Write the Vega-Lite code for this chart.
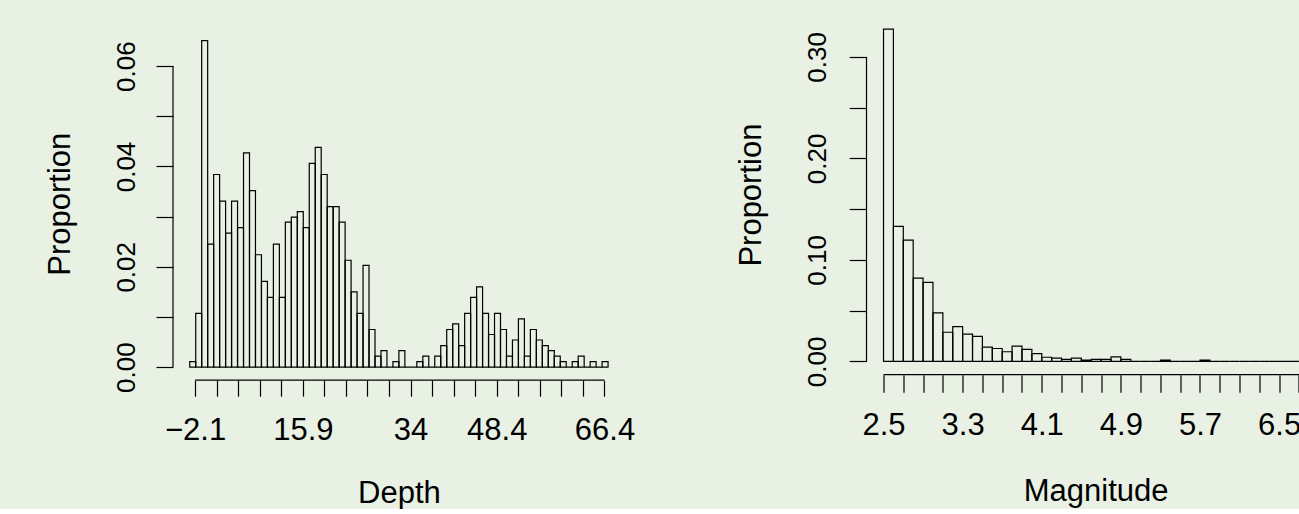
{
  "$schema": "https://vega.github.io/schema/vega-lite/v6.json",
  "background": "#e8f1e4",
  "padding": {"left": 44, "top": 16, "right": 0, "bottom": 0},
  "spacing": 99.5,
  "config": {
    "view": {"stroke": null},
    "font": "Liberation Sans",
    "axis": {
      "grid": false,
      "domain": false,
      "ticks": true,
      "tickCount": 100,
      "tickColor": "#000000",
      "tickWidth": 1.2,
      "labelColor": "#000000",
      "titleColor": "#000000",
      "titleFontWeight": "normal",
      "labelOverlap": false,
      "labelFont": "Liberation Sans",
      "titleFont": "Liberation Sans"
    }
  },
  "datasets": {
    "depth": [
      {"bin_start": -3, "bin_end": -2, "proportion": 0.0011},
      {"bin_start": -2, "bin_end": -1, "proportion": 0.0107},
      {"bin_start": -1, "bin_end": 0, "proportion": 0.0651},
      {"bin_start": 0, "bin_end": 1, "proportion": 0.0245},
      {"bin_start": 1, "bin_end": 2, "proportion": 0.0384},
      {"bin_start": 2, "bin_end": 3, "proportion": 0.0331},
      {"bin_start": 3, "bin_end": 4, "proportion": 0.0267},
      {"bin_start": 4, "bin_end": 5, "proportion": 0.0331},
      {"bin_start": 5, "bin_end": 6, "proportion": 0.0278},
      {"bin_start": 6, "bin_end": 7, "proportion": 0.0427},
      {"bin_start": 7, "bin_end": 8, "proportion": 0.0352},
      {"bin_start": 8, "bin_end": 9, "proportion": 0.0224},
      {"bin_start": 9, "bin_end": 10, "proportion": 0.0171},
      {"bin_start": 10, "bin_end": 11, "proportion": 0.0139},
      {"bin_start": 11, "bin_end": 12, "proportion": 0.0245},
      {"bin_start": 12, "bin_end": 13, "proportion": 0.0139},
      {"bin_start": 13, "bin_end": 14, "proportion": 0.0289},
      {"bin_start": 14, "bin_end": 15, "proportion": 0.0299},
      {"bin_start": 15, "bin_end": 16, "proportion": 0.0310},
      {"bin_start": 16, "bin_end": 17, "proportion": 0.0278},
      {"bin_start": 17, "bin_end": 18, "proportion": 0.0406},
      {"bin_start": 18, "bin_end": 19, "proportion": 0.0438},
      {"bin_start": 19, "bin_end": 20, "proportion": 0.0384},
      {"bin_start": 20, "bin_end": 21, "proportion": 0.0320},
      {"bin_start": 21, "bin_end": 22, "proportion": 0.0320},
      {"bin_start": 22, "bin_end": 23, "proportion": 0.0289},
      {"bin_start": 23, "bin_end": 24, "proportion": 0.0213},
      {"bin_start": 24, "bin_end": 25, "proportion": 0.0150},
      {"bin_start": 25, "bin_end": 26, "proportion": 0.0107},
      {"bin_start": 26, "bin_end": 27, "proportion": 0.0203},
      {"bin_start": 27, "bin_end": 28, "proportion": 0.0075},
      {"bin_start": 28, "bin_end": 29, "proportion": 0.0022},
      {"bin_start": 29, "bin_end": 30, "proportion": 0.0033},
      {"bin_start": 30, "bin_end": 31, "proportion": 0},
      {"bin_start": 31, "bin_end": 32, "proportion": 0.0011},
      {"bin_start": 32, "bin_end": 33, "proportion": 0.0033},
      {"bin_start": 33, "bin_end": 34, "proportion": 0},
      {"bin_start": 34, "bin_end": 35, "proportion": 0},
      {"bin_start": 35, "bin_end": 36, "proportion": 0.0011},
      {"bin_start": 36, "bin_end": 37, "proportion": 0.0022},
      {"bin_start": 37, "bin_end": 38, "proportion": 0},
      {"bin_start": 38, "bin_end": 39, "proportion": 0.0022},
      {"bin_start": 39, "bin_end": 40, "proportion": 0.0043},
      {"bin_start": 40, "bin_end": 41, "proportion": 0.0075},
      {"bin_start": 41, "bin_end": 42, "proportion": 0.0086},
      {"bin_start": 42, "bin_end": 43, "proportion": 0.0043},
      {"bin_start": 43, "bin_end": 44, "proportion": 0.0107},
      {"bin_start": 44, "bin_end": 45, "proportion": 0.0139},
      {"bin_start": 45, "bin_end": 46, "proportion": 0.0160},
      {"bin_start": 46, "bin_end": 47, "proportion": 0.0107},
      {"bin_start": 47, "bin_end": 48, "proportion": 0.0065},
      {"bin_start": 48, "bin_end": 49, "proportion": 0.0107},
      {"bin_start": 49, "bin_end": 50, "proportion": 0.0075},
      {"bin_start": 50, "bin_end": 51, "proportion": 0.0022},
      {"bin_start": 51, "bin_end": 52, "proportion": 0.0054},
      {"bin_start": 52, "bin_end": 53, "proportion": 0.0096},
      {"bin_start": 53, "bin_end": 54, "proportion": 0.0022},
      {"bin_start": 54, "bin_end": 55, "proportion": 0.0075},
      {"bin_start": 55, "bin_end": 56, "proportion": 0.0054},
      {"bin_start": 56, "bin_end": 57, "proportion": 0.0043},
      {"bin_start": 57, "bin_end": 58, "proportion": 0.0033},
      {"bin_start": 58, "bin_end": 59, "proportion": 0.0022},
      {"bin_start": 59, "bin_end": 60, "proportion": 0.0011},
      {"bin_start": 60, "bin_end": 61, "proportion": 0},
      {"bin_start": 61, "bin_end": 62, "proportion": 0.0011},
      {"bin_start": 62, "bin_end": 63, "proportion": 0.0022},
      {"bin_start": 63, "bin_end": 64, "proportion": 0},
      {"bin_start": 64, "bin_end": 65, "proportion": 0.0011},
      {"bin_start": 65, "bin_end": 66, "proportion": 0},
      {"bin_start": 66, "bin_end": 67, "proportion": 0.0011}
    ],
    "mag": [
      {"bin_start": 2.5, "bin_end": 2.6, "proportion": 0.3273},
      {"bin_start": 2.6, "bin_end": 2.7, "proportion": 0.1330},
      {"bin_start": 2.7, "bin_end": 2.8, "proportion": 0.1195},
      {"bin_start": 2.8, "bin_end": 2.9, "proportion": 0.0821},
      {"bin_start": 2.9, "bin_end": 3.0, "proportion": 0.0778},
      {"bin_start": 3.0, "bin_end": 3.1, "proportion": 0.0478},
      {"bin_start": 3.1, "bin_end": 3.2, "proportion": 0.0287},
      {"bin_start": 3.2, "bin_end": 3.3, "proportion": 0.0343},
      {"bin_start": 3.3, "bin_end": 3.4, "proportion": 0.0269},
      {"bin_start": 3.4, "bin_end": 3.5, "proportion": 0.0247},
      {"bin_start": 3.5, "bin_end": 3.6, "proportion": 0.0140},
      {"bin_start": 3.6, "bin_end": 3.7, "proportion": 0.0127},
      {"bin_start": 3.7, "bin_end": 3.8, "proportion": 0.0095},
      {"bin_start": 3.8, "bin_end": 3.9, "proportion": 0.0150},
      {"bin_start": 3.9, "bin_end": 4.0, "proportion": 0.0118},
      {"bin_start": 4.0, "bin_end": 4.1, "proportion": 0.0077},
      {"bin_start": 4.1, "bin_end": 4.2, "proportion": 0.0041},
      {"bin_start": 4.2, "bin_end": 4.3, "proportion": 0.0032},
      {"bin_start": 4.3, "bin_end": 4.4, "proportion": 0.0020},
      {"bin_start": 4.4, "bin_end": 4.5, "proportion": 0.0032},
      {"bin_start": 4.5, "bin_end": 4.6, "proportion": 0.0013},
      {"bin_start": 4.6, "bin_end": 4.7, "proportion": 0.0020},
      {"bin_start": 4.7, "bin_end": 4.8, "proportion": 0.0020},
      {"bin_start": 4.8, "bin_end": 4.9, "proportion": 0.0045},
      {"bin_start": 4.9, "bin_end": 5.0, "proportion": 0.0020},
      {"bin_start": 5.0, "bin_end": 5.1, "proportion": 0},
      {"bin_start": 5.1, "bin_end": 5.2, "proportion": 0},
      {"bin_start": 5.2, "bin_end": 5.3, "proportion": 0},
      {"bin_start": 5.3, "bin_end": 5.4, "proportion": 0.0012},
      {"bin_start": 5.4, "bin_end": 5.5, "proportion": 0},
      {"bin_start": 5.5, "bin_end": 5.6, "proportion": 0},
      {"bin_start": 5.6, "bin_end": 5.7, "proportion": 0},
      {"bin_start": 5.7, "bin_end": 5.8, "proportion": 0.0012},
      {"bin_start": 5.8, "bin_end": 5.9, "proportion": 0},
      {"bin_start": 5.9, "bin_end": 6.0, "proportion": 0},
      {"bin_start": 6.0, "bin_end": 6.1, "proportion": 0},
      {"bin_start": 6.1, "bin_end": 6.2, "proportion": 0},
      {"bin_start": 6.2, "bin_end": 6.3, "proportion": 0},
      {"bin_start": 6.3, "bin_end": 6.4, "proportion": 0},
      {"bin_start": 6.4, "bin_end": 6.5, "proportion": 0},
      {"bin_start": 6.5, "bin_end": 6.6, "proportion": 0},
      {"bin_start": 6.6, "bin_end": 6.7, "proportion": 0}
    ]
  },
  "hconcat": [
    {
      "width": 451.8,
      "height": 364.2,
      "layer": [
        {
          "data": {"name": "depth"},
          "mark": {"type": "rect", "fill": "transparent", "stroke": "#000000", "strokeWidth": 1.2},
          "encoding": {
            "x": {
              "field": "bin_start", "type": "quantitative",
              "scale": {"domain": [-5.8, 69.8], "nice": false, "zero": false},
              "axis": {
                "values": [-2.1, 1.5053, 5.1105, 8.7158, 12.3211, 15.9263, 19.5316, 23.1368, 26.7421, 30.3474, 33.9526, 37.5579, 41.1632, 44.7684, 48.3737, 51.9789, 55.5842, 59.1895, 62.7947, 66.4],
                "tickCount": 100,
                "labelExpr": "abs(datum.value+2.1)<0.01 ? '−2.1' : abs(datum.value-15.9263)<0.01 ? '15.9' : abs(datum.value-33.9526)<0.01 ? '34' : abs(datum.value-48.3737)<0.01 ? '48.4' : abs(datum.value-66.4)<0.01 ? '66.4' : ''",
                "tickSize": 16,
                "labelPadding": 43.2,
                "labelAngle": 0,
                "labelAlign": "center",
                "labelBaseline": "alphabetic",
                "labelFontSize": 31,
                "title": "Depth",
                "titleFontSize": 31,
                "titleBaseline": "alphabetic",
                "titleY": 121.9
              }
            },
            "x2": {"field": "bin_end"},
            "y": {
              "field": "proportion", "type": "quantitative",
              "scale": {"domain": [-0.00261, 0.0700], "nice": false, "zero": false},
              "axis": {
                "values": [0, 0.01, 0.02, 0.03, 0.04, 0.05, 0.06],
                "tickCount": 100,
                "labelExpr": "abs(datum.value*50 - round(datum.value*50)) < 0.001 ? format(datum.value, '.2f') : ''",
                "tickSize": 17,
                "labelPadding": 21.3,
                "labelAngle": 270,
                "labelAlign": "center",
                "labelBaseline": "alphabetic",
                "labelFontSize": 26,
                "title": "Proportion",
                "titleFontSize": 31,
                "titleAngle": 270,
                "titleAlign": "center",
                "titleBaseline": "alphabetic",
                "titleX": -103.3,
                "titleY": 187.7
              }
            },
            "y2": {"datum": 0}
          }
        },
        {
          "data": {"values": [{}]},
          "mark": {"type": "rule", "stroke": "#000000", "strokeWidth": 1.2},
          "encoding": {
            "x": {"datum": -5.8, "type": "quantitative"},
            "y": {"datum": 0, "type": "quantitative"},
            "y2": {"datum": 0.06}
          }
        },
        {
          "data": {"values": [{}]},
          "mark": {"type": "rule", "stroke": "#000000", "strokeWidth": 1.2},
          "encoding": {
            "x": {"datum": -2.1, "type": "quantitative"},
            "x2": {"datum": 66.4},
            "y": {"datum": -0.00261, "type": "quantitative"}
          }
        }
      ]
    },
    {
      "width": 432.6,
      "height": 358.7,
      "layer": [
        {
          "data": {"name": "mag"},
          "mark": {"type": "rect", "fill": "transparent", "stroke": "#000000", "strokeWidth": 1.2},
          "encoding": {
            "x": {
              "field": "bin_start", "type": "quantitative",
              "scale": {"domain": [2.328, 6.702], "nice": false, "zero": false},
              "axis": {
                "values": [2.5, 2.7, 2.9, 3.1, 3.3, 3.5, 3.7, 3.9, 4.1, 4.3, 4.5, 4.7, 4.9, 5.1, 5.3, 5.5, 5.7, 5.9, 6.1, 6.3, 6.5, 6.7],
                "tickCount": 100,
                "labelExpr": "abs((datum.value-2.5)/0.8 - round((datum.value-2.5)/0.8)) < 0.01 ? format(datum.value, '.1f') : ''",
                "tickSize": 17.5,
                "labelPadding": 42.2,
                "labelAngle": 0,
                "labelAlign": "center",
                "labelBaseline": "alphabetic",
                "labelFontSize": 31,
                "title": "Magnitude",
                "titleFontSize": 31,
                "titleBaseline": "alphabetic",
                "titleX": 229.1,
                "titleY": 125.7
              }
            },
            "x2": {"field": "bin_end"},
            "y": {
              "field": "proportion", "type": "quantitative",
              "scale": {"domain": [-0.0131, 0.3403], "nice": false, "zero": false},
              "axis": {
                "values": [0, 0.05, 0.1, 0.15, 0.2, 0.25, 0.3],
                "tickCount": 100,
                "labelExpr": "abs(datum.value*10 - round(datum.value*10)) < 0.001 ? format(datum.value, '.2f') : ''",
                "tickSize": 17.3,
                "labelPadding": 23.4,
                "labelAngle": 270,
                "labelAlign": "center",
                "labelBaseline": "alphabetic",
                "labelFontSize": 26,
                "title": "Proportion",
                "titleFontSize": 31,
                "titleAngle": 270,
                "titleAlign": "center",
                "titleBaseline": "alphabetic",
                "titleX": -106,
                "titleY": 178.6
              }
            },
            "y2": {"datum": 0}
          }
        },
        {
          "data": {"values": [{}]},
          "mark": {"type": "rule", "stroke": "#000000", "strokeWidth": 1.2},
          "encoding": {
            "x": {"datum": 2.328, "type": "quantitative"},
            "y": {"datum": 0, "type": "quantitative"},
            "y2": {"datum": 0.3}
          }
        },
        {
          "data": {"values": [{}]},
          "mark": {"type": "rule", "stroke": "#000000", "strokeWidth": 1.2},
          "encoding": {
            "x": {"datum": 2.5, "type": "quantitative"},
            "x2": {"datum": 6.702},
            "y": {"datum": -0.0131, "type": "quantitative"}
          }
        }
      ]
    }
  ]
}
